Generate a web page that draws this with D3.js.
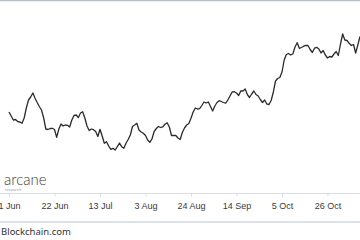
<!DOCTYPE html>
<html>
<head>
<meta charset="utf-8">
<script src="https://cdn.jsdelivr.net/npm/d3@7"></script>
<style>
  html, body { margin: 0; padding: 0; background: #fff; }
  svg { display: block; }
</style>
</head>
<body>
<div id="chart"></div>
<script>
// daily series, starting 1 Jun
var startDate = "2020-06-01";
var values = [
  138, 134, 130, 130.5, 128.5, 128, 126.7, 132, 142, 150,
  153, 157, 152, 147.5, 143.5, 140, 132, 121, 120.5, 121.5,
  121.7, 120.5, 112.7, 121, 126, 124, 125, 124.7, 123, 130,
  134.5, 135, 132.5, 137, 138.3, 132, 124, 119.5, 121, 120.3,
  118.5, 113.5, 120.7, 114, 106.7, 108.3, 104, 100.7, 101.7, 100,
  103.3, 107, 103.3, 101.7, 106.7, 110.5, 115, 123.5, 125, 126.7,
  120, 118, 116.7, 114.5, 110, 107.7, 111.2, 118.5, 121.5, 123.5,
  122.5, 123.2, 125.7, 127.2, 123, 114.5, 114.5, 114.5, 112, 110.5,
  117.5, 122, 125, 126.5, 131.7, 138, 142, 141, 141.3, 144.5,
  148, 147, 148, 143.5, 139, 144, 147.5, 149.3, 148.5, 147.5,
  146.8, 150, 154, 158, 158.3, 157, 154.5, 159.2, 159, 161,
  155.5, 152.5, 156, 159, 155.5, 154, 150.5, 147.5, 150, 146,
  145.5, 149.5, 158, 169, 171.5, 172.5, 178, 190, 195.5, 196.5,
  195, 196, 203, 207.3, 201.7, 202.5, 203.8, 204.7, 204.5, 200.5,
  197.5, 201.8, 202.7, 201, 197, 199.5, 195, 192, 193.5, 193,
  196, 198.5, 194.5, 206, 216, 210, 209.5, 206.7, 204.5, 205.5,
  197, 205, 213.5
];
var tickDates = ["2020-06-01", "2020-06-22", "2020-07-13", "2020-08-03",
                 "2020-08-24", "2020-09-14", "2020-10-05", "2020-10-26"];
var tickLabels = ["1 Jun", "22 Jun", "13 Jul", "3 Aug", "24 Aug", "14 Sep", "5 Oct", "26 Oct"];

var width = 360, height = 240;
var parse = d3.utcParse("%Y-%m-%d");
var t0 = parse(startDate);
var data = values.map(function(v, i) { return { date: d3.utcDay.offset(t0, i), value: v }; });

var x = d3.scaleUtc()
  .domain([t0, data[data.length - 1].date])
  .range([9, 360]);
var y = d3.scaleLinear()
  .domain([100, 220])
  .range([150, 30]);

var svg = d3.select("#chart").append("svg")
  .attr("width", width)
  .attr("height", height)
  .style("font-family", "'Noto Sans', sans-serif");

// top border
svg.append("line")
  .attr("x1", 0).attr("x2", width)
  .attr("y1", 0.5).attr("y2", 0.5)
  .attr("stroke", "#b3c3d3")
  .attr("stroke-width", 1.5);

// x axis
var axis = d3.axisBottom(x)
  .tickValues(tickDates.map(parse))
  .tickFormat(function(d, i) { return tickLabels[i]; })
  .tickSize(3)
  .tickPadding(6);

var gx = svg.append("g")
  .attr("transform", "translate(0,193.5)")
  .call(axis);
gx.select(".domain").attr("d", "M0,0H" + width).attr("stroke", "#d9dee4");
gx.selectAll(".tick line").attr("stroke", "#d9dee4");
gx.selectAll(".tick text")
  .attr("fill", "#3a3a3a")
  .style("font-size", "9px");

// line
var line = d3.line()
  .x(function(d) { return x(d.date); })
  .y(function(d) { return y(d.value); });

svg.append("path")
  .datum(data)
  .attr("fill", "none")
  .attr("stroke", "#2b2b2b")
  .attr("stroke-width", 1.3)
  .attr("stroke-linejoin", "round")
  .attr("d", line);

// logo
svg.append("text")
  .attr("x", 4).attr("y", 184.5)
  .attr("fill", "#3a3a3a")
  .style("font-size", "15px")
  .style("font-weight", 300)
  .style("font-family", "Lato, sans-serif")
  .text("arcane");
svg.append("text")
  .attr("x", 5).attr("y", 191)
  .attr("fill", "#9a9a9a")
  .style("font-size", "4px")
  .text("research");

// footer
svg.append("line")
  .attr("x1", 0).attr("x2", width)
  .attr("y1", 222).attr("y2", 222)
  .attr("stroke", "#b8c6d4")
  .attr("stroke-width", 1);
svg.append("text")
  .attr("x", 1).attr("y", 235)
  .attr("fill", "#333")
  .style("font-size", "9.5px")
  .text("Blockchain.com");
</script>
</body>
</html>
